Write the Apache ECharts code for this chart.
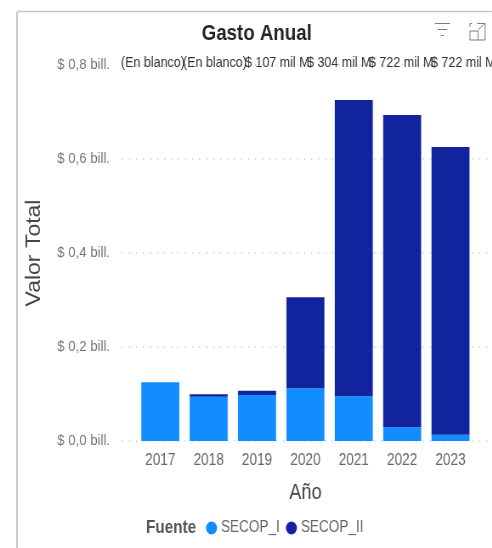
<!DOCTYPE html>
<html><head><meta charset="utf-8">
<style>html,body{margin:0;padding:0;background:#fff;overflow:hidden;width:492px;height:548px}
#c{height:548px;transform-origin:0 0}</style>
<script src="https://cdn.jsdelivr.net/npm/echarts@6/dist/echarts.min.js"></script>
</head><body><div id="c"></div>
<script>
const years = ['2017','2018','2019','2020','2021','2022','2023'];
const secopI = [0.125,0.0943,0.0979,0.1121,0.0951,0.0291,0.0134];
const secopII = [0,0.0051,0.0091,0.1939,0.6304,0.6645,0.6121];
const topLabels = ['(En blanco)','(En blanco)','$ 107 mil M','$ 304 mil M','$ 722 mil M','$ 722 mil M','$ 722 mil M'];
const yTicks = {0:'$ 0,0 bill.',0.2:'$ 0,2 bill.',0.4:'$ 0,4 bill.',0.6:'$ 0,6 bill.',0.8:'$ 0,8 bill.'};
const SANS = '"Liberation Sans",sans-serif';
// The reference is squeezed horizontally: the whole chart is drawn wider, then condensed.
const S = 0.85, X = v => v / S;
const el = document.getElementById('c');
el.style.width = X(492) + 'px';
el.style.transform = 'scaleX(' + S + ')';
const chart = echarts.init(el,null,{renderer:'canvas'});
const line = (x1,y1,x2,y2,c,w)=>({type:'line',silent:true,shape:{x1:X(x1),y1,x2:X(x2),y2},style:{stroke:c||'#7a7a7a',lineWidth:w||1}});
chart.setOption({
  animation:false,
  backgroundColor:'#fff',
  title:{text:'Gasto Anual',left:X(252.5),top:18,textAlign:'center',textStyle:{fontFamily:SANS,fontSize:22,fontWeight:'bold',color:'#252423'}},
  grid:[
    {outerBoundsMode:'none',left:X(136.1),width:X(338.6),top:65,height:376},
    {outerBoundsMode:'none',left:X(122),width:X(368),top:65,height:376},
    {outerBoundsMode:'none',left:X(121),width:X(372),top:41,height:14}
  ],
  xAxis:[
    {type:'category',gridIndex:0,data:years,axisLine:{show:false},axisTick:{show:false},
     axisLabel:{margin:12,fontFamily:SANS,fontSize:16,color:'#666'},
     name:'Año',nameLocation:'middle',nameGap:41,nameTextStyle:{fontFamily:SANS,fontSize:21.5,color:'#444'}},
    {type:'category',gridIndex:1,data:years,show:false},
    {type:'category',gridIndex:2,data:topLabels,boundaryGap:false,axisLine:{show:false},axisTick:{show:false},
     axisLabel:{interval:0,margin:0,align:'left',showMinLabel:true,showMaxLabel:true,hideOverlap:false,fontFamily:SANS,fontSize:14.7,color:'#333'}}
  ],
  yAxis:[
    {type:'value',gridIndex:0,min:0,max:0.8,interval:0.2,show:false},
    {type:'value',gridIndex:1,min:0,max:0.8,interval:0.2,
     axisLine:{show:false},axisTick:{show:false},
     splitLine:{show:true,lineStyle:{type:[X(1.2),X(5.8)],color:'#cccccc',width:1.5}},
     axisLabel:{margin:X(12),padding:[2,0,0,0],fontFamily:SANS,fontSize:15.5,color:'#777',formatter:v=>yTicks[Math.round(v*10)/10]},
     name:'Valor Total',nameLocation:'middle',nameGap:X(78),nameTextStyle:{fontFamily:SANS,fontSize:23,color:'#444'}},
    {type:'value',gridIndex:2,show:false}
  ],
  legend:{left:X(206),top:520,padding:0,icon:'path://M50 0A50 50 0 1 1 50 100A50 50 0 1 1 50 0Z',itemWidth:X(12),itemHeight:13,itemGap:X(6),selectedMode:false,
    textStyle:{fontFamily:SANS,fontSize:16,color:'#666',padding:[0,0,0,-1]},data:['SECOP_I','SECOP_II']},
  series:[
    {name:'SECOP_I',type:'bar',stack:'t',xAxisIndex:0,yAxisIndex:0,barWidth:X(38),data:secopI,itemStyle:{color:'#118DFF'}},
    {name:'SECOP_II',type:'bar',stack:'t',xAxisIndex:0,yAxisIndex:0,barWidth:X(38),data:secopII,itemStyle:{color:'#12239E'}}
  ],
  graphic:[
    line(17,12,17,548,'#c8c8c8',2),
    line(17,11.5,492,11.5,'#c8c8c8',1.5),
    {type:'text',silent:true,left:X(146),top:519,style:{text:'Fuente',fontFamily:SANS,fontSize:18,fontWeight:'bold',fill:'#555'}},
    line(435,23.5,450,23.5), line(438,29.5,447,29.5), line(441,35.5,444,35.5),
    line(477,23.5,485,23.5), line(485,23.5,485,40), line(485,40,470,40), line(470,40,470,31),
    line(470,31,478,31), line(478,31,478,40), line(472,23.5,470,23.5), line(470,23.5,470,27), line(478,30,484,24)
  ]
});
</script></body></html>
